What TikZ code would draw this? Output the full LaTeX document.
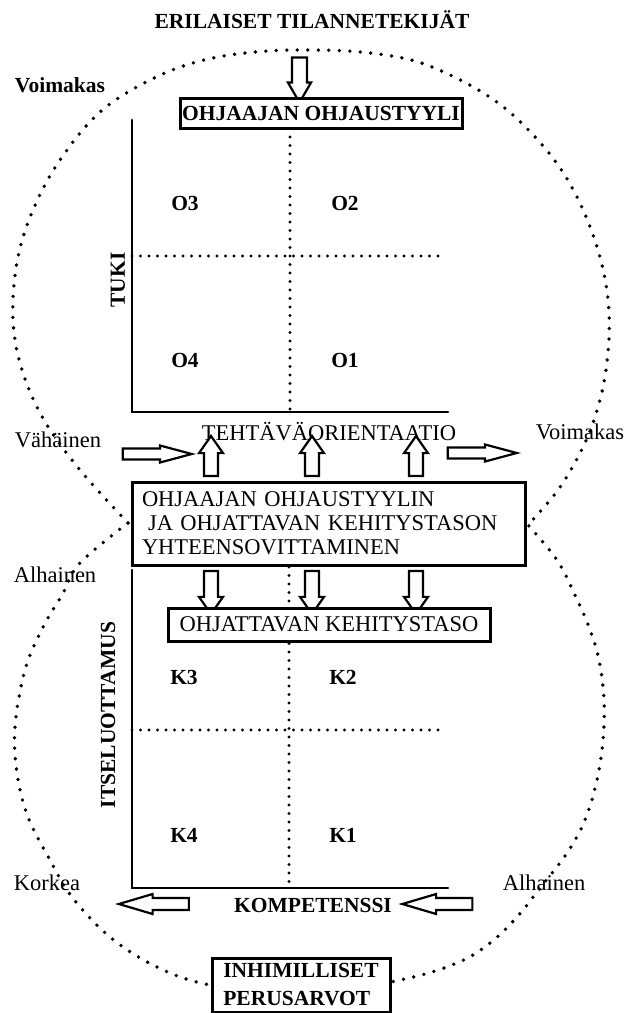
\documentclass[tikz,border=0pt]{standalone}
\usepackage{fontspec}
\setmainfont{Liberation Serif}
\usepackage{tkz-euclide}
\usetikzlibrary{shapes.arrows}
\tikzset{txt/.style={font=\fontsize{22.5}{24}\selectfont, inner sep=0pt},
  btxt/.style={font=\fontsize{21.5}{24}\selectfont\bfseries, inner sep=0pt},
  boxed/.style={draw, line width=3pt, fill=white},
  hollow/.style={single arrow, draw, fill=white, line width=2.2pt, inner xsep=0pt, single arrow head indent=0pt},
  upar/.style={rotate=90, minimum height=40, inner ysep=5.9pt, single arrow head extend=5pt, single arrow tip angle=70},
  downar/.style={rotate=-90, minimum height=43, inner ysep=5.9pt, single arrow head extend=5pt, single arrow tip angle=70},
  sidear/.style={minimum height=69, inner ysep=4.4pt, single arrow head extend=3pt, single arrow tip angle=30},
  backar/.style={rotate=180, minimum height=70, inner ysep=4.9pt, single arrow head extend=4pt, single arrow tip angle=33},
  quadline/.style={line width=3.2pt, line cap=round, dash pattern=on 0pt off 8.5pt},
  rimline/.style={line width=3.8pt, line cap=round, dash pattern=on 0pt off 10.5pt}}

\begin{document}
\begin{tikzpicture}[x=1pt, y=-1pt]
    \useasboundingbox (0,0) rectangle (627,1013);
    \draw[rimline] plot[smooth, tension=0.6] coordinates {(128,523) (80,470) (44,420) (22,370) (13,320) (17,262) (33,210) (60,160) (100,112) (150,80) (200,61) (255,52) (311,50) (370,53) (427,65) (494,100) (544,147) (577,197) (600,257) (609,313) (606,370) (595,417) (580,453) (558,490) (528,525)};
    \draw[rimline] plot[smooth, tension=0.6] coordinates {(128,523) (80,563) (62,595) (43,627) (25,670) (15,727) (17,773) (28,817) (50,860) (72,897) (110,937) (157,967) (210,985) (300,996) (400,980) (457,963) (490,943) (517,917) (540,888) (567,853) (585,820) (597,780) (603,740) (604,700) (599,660) (589,627) (574,593) (557,560) (528,525)};
    \tkzDefPoints{132/120/Ua, 132/412/Ub, 448/412/Uc, 290/137/Ud, 290/412/Ue, 132/256/Uf, 445/256/Ug,
      132/570/La, 132/888/Lb, 448/888/Lc, 289/567/Ld, 289/888/Le, 132/730/Lf, 445/730/Lg}
    \tkzDrawPolySeg[line width=2.6pt](Ua,Ub,Uc)
    \tkzDrawPolySeg[line width=2.6pt](La,Lb,Lc)
    \tkzDrawSegments[quadline](Ud,Ue Uf,Ug Ld,Le Lf,Lg)
    \node[btxt] (tekijat) at (312,20) {ERILAISET TILANNETEKIJÄT};
    \node[hollow, rotate=-90, minimum height=45, inner ysep=6.4pt, single arrow head extend=4pt, single arrow tip angle=60] (nuoli) at (299.5,73.5) {};
    \node[btxt, boxed, minimum width=282, minimum height=30] (tyyli) at (321,113) {OHJAAJAN OHJAUSTYYLI};
    \node[btxt] (voim1) at (60,85) {Voimakas};
    \node[btxt] (o3) at (185,203) {O3};
    \node[btxt] (o2) at (345,203) {O2};
    \node[btxt] (o4) at (185,360) {O4};
    \node[btxt] (o1) at (345,360) {O1};
    \node[btxt, rotate=90] (tuki) at (118,280) {TUKI};
    \node[txt] (tehtava) at (329,432) {TEHTÄVÄORIENTAATIO};
    \node[txt] (vahainen) at (58,440) {Vähäinen};
    \node[txt] (voim2) at (580,432) {Voimakas};
    \node[hollow, sidear] (oik1) at (147,454) {};
    \node[hollow, sidear] (oik2) at (472,453) {};
    \node[txt, boxed, text width=373pt, inner xsep=10pt, inner ysep=0pt, minimum height=83, align=left] (sovitus) at (328.5,523.5) {OHJAAJAN OHJAUSTYYLIN\\\hspace*{6pt}JA OHJATTAVAN KEHITYSTASON\\YHTEENSOVITTAMINEN};
    \node[hollow, upar] (ylos1) at (211,461) {};
    \node[hollow, upar] (ylos2) at (312,461) {};
    \node[hollow, upar] (ylos3) at (416,461) {};
    \node[hollow, downar] (alas1) at (211,587.5) {};
    \node[hollow, downar] (alas2) at (312,587.5) {};
    \node[hollow, downar] (alas3) at (416,587.5) {};
    \node[txt, boxed, minimum width=322, minimum height=33] (taso) at (329,624.5) {OHJATTAVAN KEHITYSTASO};
    \node[txt] (alh1) at (55,575) {Alhainen};
    \node[btxt] (k3) at (184,677) {K3};
    \node[btxt] (k2) at (343,677) {K2};
    \node[btxt] (k4) at (184,835) {K4};
    \node[btxt] (k1) at (343,835) {K1};
    \node[btxt, rotate=90] (itse) at (108,715) {ITSELUOTTAMUS};
    \node[txt] (korkea) at (47,883) {Korkea};
    \node[txt] (alh2) at (544,883) {Alhainen};
    \node[btxt] (komp) at (313,905) {KOMPETENSSI};
    \node[hollow, backar] (vas1) at (164,904) {};
    \node[hollow, backar] (vas2) at (447.5,904) {};
    \node[btxt, boxed, font=\fontsize{21.5}{28}\selectfont\bfseries, align=left, minimum width=178, minimum height=54] (arvot) at (301,985) {INHIMILLISET\\PERUSARVOT};
\end{tikzpicture}
\end{document}
